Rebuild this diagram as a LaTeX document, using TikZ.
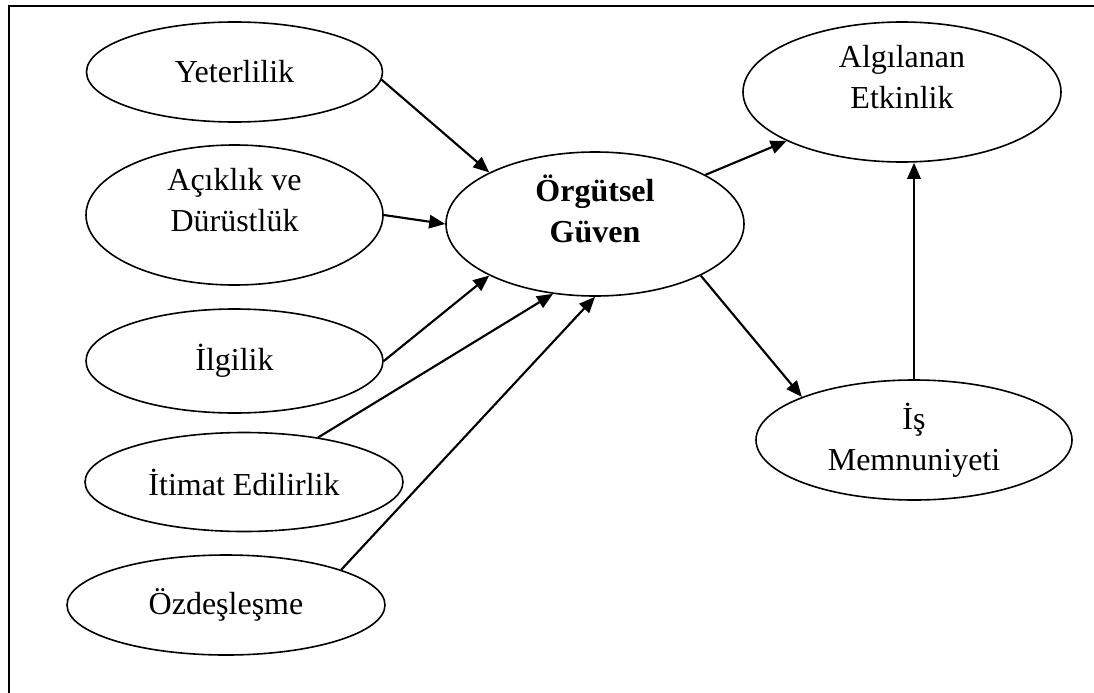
\documentclass[tikz,border=0pt]{standalone}
\usepackage{fontspec}
\setmainfont{Liberation Serif}
\usetikzlibrary{shapes.geometric,arrows.meta}

\begin{document}
\begin{tikzpicture}[x=0.75pt,y=0.75pt,yscale=-1,xscale=1,
  factor/.style={draw,ellipse,line width=1.2pt,inner sep=0pt,align=center,
    font=\fontsize{24}{31}\selectfont},
  link/.style={line width=1.6pt,-{Triangle[length=12pt,width=10pt]}}]
\useasboundingbox (0,0) rectangle (1094,692);

%Shape: Frame
\draw [line width=1.5pt] (9,700) -- (9,6) -- (1100,6) ;

%Shape: Ellipses
\node [factor,minimum width=222pt,minimum height=75pt] (yet) at (234.5,72) {Yeterlilik};
\node [factor,minimum width=222.75pt,minimum height=105pt] (acik) at (234.5,215) {Açıklık ve\\Dürüstlük\\[-8pt]};
\node [factor,minimum width=222.75pt,minimum height=78pt] (ilg) at (234.5,361) {İlgilik};
\node [factor,minimum width=238.5pt,minimum height=74.25pt] (itim) at (244,482) {İtimat Edilirlik};
\node [factor,minimum width=238.5pt,minimum height=75pt] (ozd) at (226,605) {Özdeşleşme};
\node [factor,minimum width=223.5pt,minimum height=108pt] (org) at (595,224) {\textbf{Örgütsel}\\\textbf{Güven}\\[-8pt]};
\node [factor,minimum width=238.5pt,minimum height=105pt] (alg) at (902,92) {Algılanan\\Etkinlik\\[-8pt]};
\node [factor,minimum width=237pt,minimum height=90pt] (is) at (914,440) {İş\\Memnuniyeti};

%Straight Lines
\draw [link] (yet.-3) -- (org.154) ;
\draw [link] (acik.0) -- (org.180) ;
\draw [link] (ilg.0) -- (org.206) ;
\draw [link] (itim.31.6) -- (org.239) ;
\draw [link] (ozd.17.5) -- (org.270) ;
\draw [link] (org.24.8) -- (alg.203) ;
\draw [link] (org.334) -- (is.159) ;
\draw [link] (is.north) -- (is.north |- alg.south) ;

\end{tikzpicture}
\end{document}
